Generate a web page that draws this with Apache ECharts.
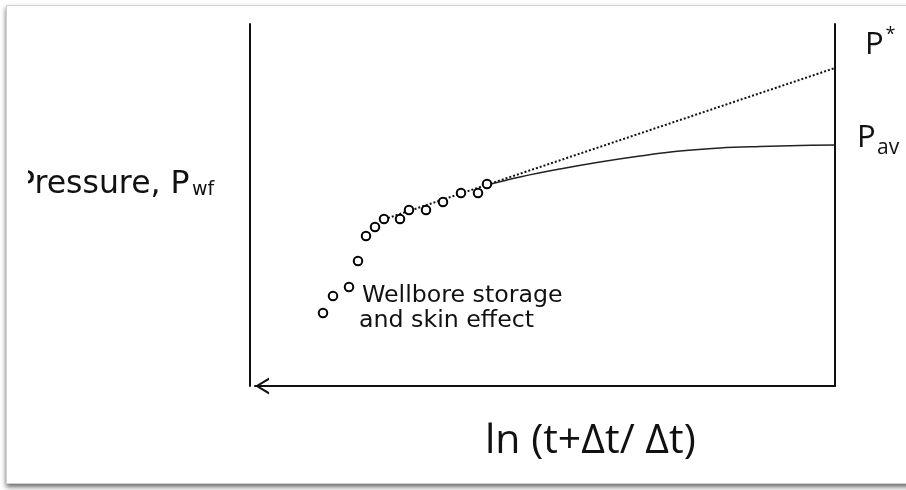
<!DOCTYPE html>
<html>
<head>
<meta charset="utf-8">
<script src="https://cdn.jsdelivr.net/npm/echarts@6/dist/echarts.min.js"></script>
<style>
  html, body { margin: 0; padding: 0; background: #ffffff; overflow: hidden; }
  #frame { position: absolute; left: 6px; top: 5px; width: 930px; height: 477px; background: #fff;
           border: 1px solid #d0d0d0; box-shadow: 0 3px 5px rgba(0,0,0,0.6); }
  #chart { position: absolute; left: 0; top: 0; width: 906px; height: 490px; }
</style>
</head>
<body>
<div id="frame"></div>
<div id="chart"></div>
<script>
// Measured points (x: position along ln((t+Δt)/Δt) axis, y: pressure), arbitrary units
const pointX = [68, 78, 94, 103, 111, 120, 129, 145, 154, 171, 188, 206, 223, 232];
const pointY = [73, 90, 99, 125, 150, 159, 167, 167, 176, 176, 184, 193, 193, 202];
// Straight-line extrapolation to P*
const dottedX = [133, 580];
const dottedY = [168, 318];
// Curve bending to P average
const curveX = [232, 265, 305, 345, 385, 425, 465, 505, 545, 580];
const curveY = [201, 209, 217, 224, 230, 235, 238, 239.5, 240.5, 241];
// Texts
const yLabelMain = 'Pressure, P';
const yLabelSub = 'wf';
const xLabel = 'ln (t+Δt/ Δt)';
const pStarMain = 'P';
const pStarSup = '*';
const pAvMain = 'P';
const pAvSub = 'av';
const noteLine1 = 'Wellbore storage';
const noteLine2 = 'and skin effect';

const X_MAX = 580, Y_MAX = 362;

const zip = (xs, ys) => xs.map((x, i) => [x, ys[i]]);

const chart = echarts.init(document.getElementById('chart'), null, { renderer: 'canvas' });

const axisLineStyle = { color: '#111', width: 2 };

const option = {
  animation: false,
  backgroundColor: 'transparent',
  grid: { left: 255, right: 71, top: 24, bottom: 104, containLabel: false, outerBoundsMode: 'none' },
  xAxis: {
    type: 'value', min: 0, max: X_MAX,
    axisLine: {
      show: true, onZero: false, lineStyle: axisLineStyle,
      symbol: ['path://M8.5,0 L17,14 L14.6,14 L8.5,3.8 L2.4,14 L0,14 Z', 'none'],
      symbolSize: [17, 14],
      symbolOffset: [7, 0]
    },
    axisTick: { show: false }, axisLabel: { show: false }, splitLine: { show: false }
  },
  yAxis: [
    {
      type: 'value', min: 0, max: Y_MAX, position: 'left', offset: 5,
      axisLine: { show: true, onZero: false, lineStyle: axisLineStyle },
      axisTick: { show: false }, axisLabel: { show: false }, splitLine: { show: false }
    },
    {
      type: 'value', min: 0, max: Y_MAX, position: 'right',
      axisLine: { show: true, onZero: false, lineStyle: axisLineStyle },
      axisTick: { show: false }, axisLabel: { show: false }, splitLine: { show: false }
    }
  ],
  series: [
    {
      type: 'line', name: 'extrapolation', data: zip(dottedX, dottedY),
      showSymbol: false, symbol: 'none', z: 2,
      lineStyle: { color: '#111', width: 2, type: [2, 2] }
    },
    {
      type: 'line', name: 'actual', data: zip(curveX, curveY),
      showSymbol: false, symbol: 'none', smooth: 0.4, z: 2,
      lineStyle: { color: '#222', width: 1.5 }
    },
    {
      type: 'scatter', name: 'data', data: zip(pointX, pointY),
      symbol: 'emptyCircle', symbolSize: 8.5, z: 3,
      itemStyle: { color: '#000', borderColor: '#000', borderWidth: 2.5, opacity: 1 }
    }
  ],
  graphic: [
    { type: 'text', z: 10, style: { text: yLabelMain, x: 16, y: 184.5, font: '31.5px "DejaVu Sans"', fill: '#111', verticalAlign: 'middle' } },
    { type: 'text', z: 10, style: { text: yLabelSub, x: 192, y: 190.5, font: '19px "DejaVu Sans"', fill: '#111', verticalAlign: 'middle' } },
    { type: 'rect', z: 11, shape: { x: 9, y: 165, width: 19, height: 40 }, style: { fill: '#fff' } },
    { type: 'text', z: 10, style: { text: xLabel, x: 485, y: 441.5, font: '41px "Open Sans"', fill: '#111', verticalAlign: 'middle' } },
    { type: 'text', z: 10, style: { text: pStarMain, x: 865, y: 45, font: '31px "Open Sans"', fill: '#111', verticalAlign: 'middle' } },
    { type: 'text', z: 10, style: { text: pStarSup, x: 890.5, y: 35, font: '18px "Open Sans"', fill: '#111', verticalAlign: 'middle', align: 'center' } },
    { type: 'text', z: 10, style: { text: pAvMain, x: 857, y: 138, font: '31px "Open Sans"', fill: '#111', verticalAlign: 'middle' } },
    { type: 'text', z: 10, style: { text: pAvSub, x: 877, y: 148.5, font: '21px "Open Sans"', fill: '#111', verticalAlign: 'middle' } },
    { type: 'text', z: 10, style: { text: noteLine1, x: 362, y: 296, font: '23.7px "DejaVu Sans"', fill: '#111', verticalAlign: 'middle' } },
    { type: 'text', z: 10, style: { text: noteLine2, x: 359, y: 321, font: '23.7px "DejaVu Sans"', fill: '#111', verticalAlign: 'middle' } }
  ]
};

chart.setOption(option);
</script>
</body>
</html>
